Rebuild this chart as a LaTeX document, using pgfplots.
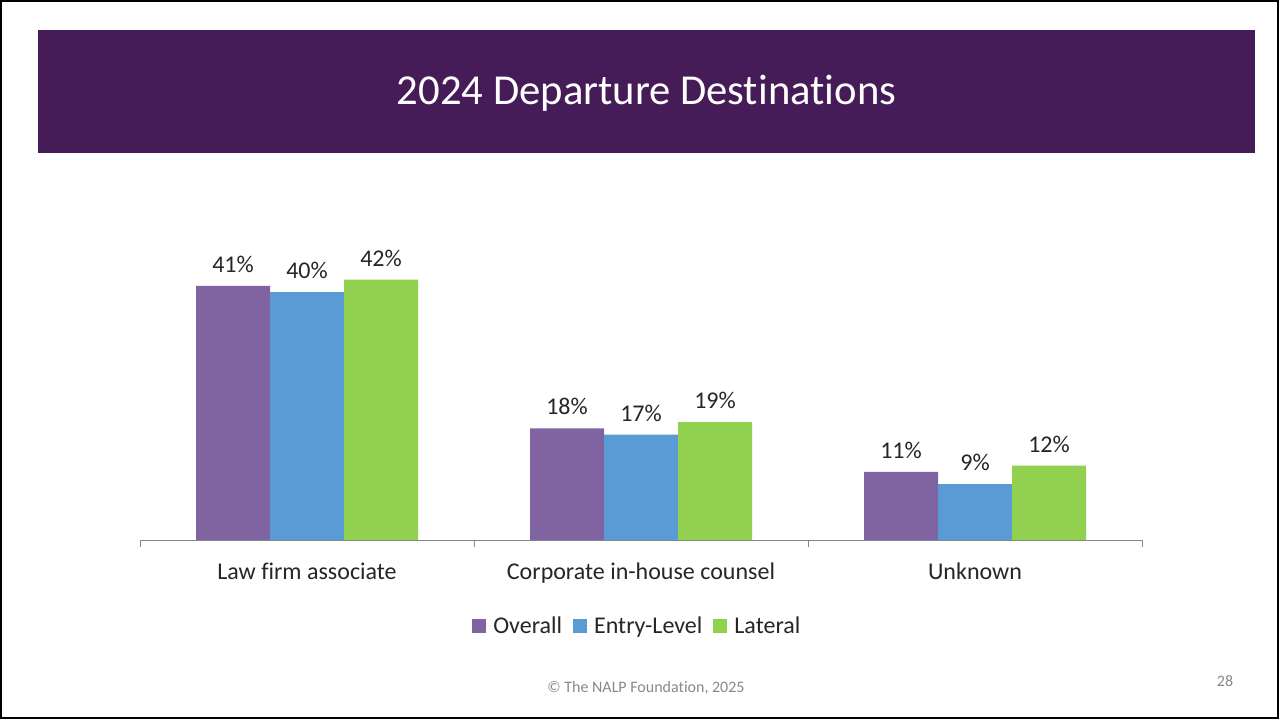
\documentclass[border=0pt]{standalone}
\usepackage{fontspec}
\setmainfont{Carlito}[Ligatures={NoCommon,NoContextual}]
\usepackage{pgfplots}
\pgfplotsset{compat=1.18}
\definecolor{banner}{HTML}{451C58}
\definecolor{cOverall}{HTML}{8064A2}
\definecolor{cEntry}{HTML}{5B9BD5}
\definecolor{cLateral}{HTML}{92D050}
\definecolor{txt}{HTML}{262626}
\definecolor{foot}{HTML}{898989}
\definecolor{axisgray}{HTML}{868686}
\begin{document}
\begin{tikzpicture}
\useasboundingbox (0,0) rectangle (959.25pt,539.25pt);
\fill[white] (0,0) rectangle (959.25pt,539.25pt);
\draw[black,line width=1.5pt] (0.75pt,0.75pt) rectangle (958.5pt,538.5pt);
\fill[banner] (28.5pt,424.5pt) rectangle (941.25pt,516.75pt);
\node[text=white,font=\fontsize{32}{38}\selectfont] at (484.9pt,469pt) {2024 Departure Destinations};
\node[text=foot,font=\fontsize{12}{14}\selectfont] at (484.5pt,23.25pt) {© The NALP Foundation, 2025};
\node[text=foot,font=\fontsize{12}{14}\selectfont] at (918.75pt,28.5pt) {28};
\begin{axis}[
  at={(105pt,134.25pt)}, anchor=south west,
  scale only axis, width=751.5pt, height=255.75pt,
  xmin=-0.5, xmax=2.5, ymin=0, ymax=55,
  ybar=0pt, bar width=55.5pt,
  axis x line=bottom, axis y line=none,
  axis line style={draw=axisgray,-},
  tick align=outside,
  xtick={0,1,2},
  xticklabels={Law firm associate, Corporate in-house counsel, Unknown},
  major tick length=0pt,
  minor xtick={-0.5,0.5,1.5,2.5},
  minor tick length=5pt,
  minor x tick style={draw=axisgray},
  xticklabel style={font=\fontsize{18}{22}\selectfont, text=txt, anchor=base, yshift=-29.25pt},
  nodes near coords={\pgfmathprintnumber[assume math mode=true]{\pgfplotspointmeta}\%},
  every node near coord/.append style={font=\fontsize{18}{22}\selectfont, text=txt, inner sep=0pt, yshift=9.75pt},
  legend columns=3,
  legend style={draw=none, fill=none, at={(axis description cs:0.4965,-0.252)}, anchor=center,
    font=\fontsize{18}{22}\selectfont, text=txt,
    /tikz/every even column/.append style={column sep=6pt}},
  legend image code/.code={\fill[#1] (0pt,-5.25pt) rectangle (10.5pt,5.25pt); \path (0pt,0pt) -- (14pt,0pt);},
]
\addplot[fill=cOverall, draw=none] coordinates {(0,41) (1,18) (2,11)};
\addplot[fill=cEntry, draw=none] coordinates {(0,40) (1,17) (2,9)};
\addplot[fill=cLateral, draw=none] coordinates {(0,42) (1,19) (2,12)};
\legend{Overall, Entry-Level, Lateral}
\end{axis}
\end{tikzpicture}
\end{document}
